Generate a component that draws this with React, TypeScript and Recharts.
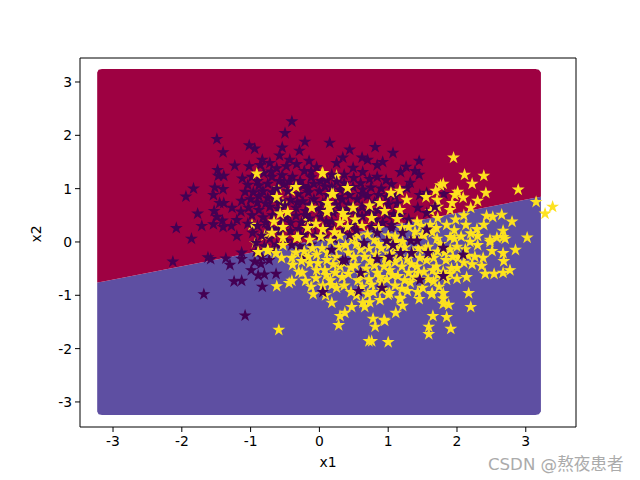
import { ComposedChart, Area, Scatter, XAxis, YAxis, ZAxis, ReferenceLine } from 'recharts';

type Pt = [number, number];

const xTicks = [-3, -2, -1, 0, 1, 2, 3];
const yTicks = [-3, -2, -1, 0, 1, 2, 3];

// decision regions: [x, bottom, boundary, top]
const regionX = [-3.23, -3.21, -3.16, 3.14, 3.19, 3.22];
const regionBottom = [-3.18, -3.23, -3.245, -3.245, -3.23, -3.18];
const regionBoundary = [-0.76, -0.755, -0.745, 0.83, 0.84, 0.85];
const regionTop = [3.18, 3.23, 3.245, 3.245, 3.23, 3.18];

// class 0 stars
const darkPoints: Pt[] = [
  [-0.4, 2.26], [-0.5, 2.04], [-1.49, 1.93], [-0.21, 1.88], [-1.02, 1.81], [-0.94, 1.75], [-1.4, 1.68], [-0.54, 1.77],
  [-0.29, 1.71], [-0.58, 1.62], [-0.43, 1.54], [-0.83, 1.54], [-0.86, 1.44], [-1.23, 1.43], [-1.48, 1.35], [-1.47, 1.24],
  [-1.39, 1.24], [-1.12, 1.19], [-1.83, 1.0], [-1.94, 0.85], [-1.52, 1.02], [-1.4, 0.99], [-1.54, 0.88], [-1.13, 0.77],
  [-1.39, 0.73], [-1.45, 0.73], [-1.27, 0.64], [-1.53, 0.58], [-1.14, 0.57], [-1.77, 0.53], [-1.49, 0.47], [-1.41, 0.4],
  [-1.2, 0.41], [-1.71, 0.3], [-1.54, 0.33], [-1.4, 0.28], [-1.28, 0.3], [-2.08, 0.26], [-1.86, 0.06], [-1.2, 0.11],
  [-2.13, -0.37], [-1.62, -0.29], [-1.58, -0.32], [-1.36, -0.31], [-1.3, -0.43], [-1.13, -0.32], [-0.94, -0.37], [-0.85, -0.41],
  [-0.73, -0.34], [-0.99, -0.53], [-0.8, -0.61], [-0.89, -0.63], [-0.63, -0.6], [-1.24, -0.74], [-1.13, -0.73], [-0.83, -0.84],
  [-1.68, -0.98], [-1.08, -1.38], [-0.22, -0.29], [-0.4, -0.06], [-1.13, -0.2], [0.15, 1.86], [0.44, 1.73], [0.81, 1.78],
  [1.07, 1.67], [0.34, 1.58], [0.25, 1.48], [0.62, 1.58], [0.7, 1.54], [0.92, 1.5], [0.84, 1.44], [1.45, 1.52],
  [1.26, 1.41], [1.39, 1.33], [1.18, 1.31], [1.45, 1.26], [0.49, 1.39], [0.63, 1.31], [0.84, 1.22], [0.73, 1.18],
  [0.97, 1.16], [1.32, 1.11], [1.27, 1.01], [0.63, 0.98], [0.49, 1.03], [0.25, 1.13], [0.11, 1.16], [1.81, 0.9],
  [1.56, 0.92], [1.46, 0.88], [1.43, 0.64], [0.98, 0.51], [0.55, 0.41], [0.76, 0.28], [1.05, 0.26],
  [-1.02, 1.42], [-0.72, 1.48], [-0.62, 1.38], [-0.48, 1.42], [-0.33, 1.46], [-0.15, 1.52], [-0.04, 1.4], [-0.22, 1.33],
  [-0.81, 1.29], [-0.98, 1.22], [-0.69, 1.22], [-0.54, 1.25], [-0.39, 1.22], [-0.12, 1.21], [0.02, 1.14], [0.36, 1.26],
  [-1.04, 1.07], [-0.88, 1.06], [-0.75, 1.09], [-0.52, 1.08], [-0.44, 1.13], [-0.24, 1.05], [-0.08, 1.09], [0.18, 1.02],
  [0.3, 0.98], [0.44, 0.88], [-1.08, 0.94], [-0.96, 0.93], [-0.82, 0.95], [-0.68, 0.93], [-0.46, 0.95], [-0.3, 0.9],
  [-0.16, 0.93], [0.0, 0.95], [0.12, 0.88], [0.33, 0.8], [0.55, 0.8], [0.7, 0.86], [0.86, 0.88], [-1.0, 0.8],
  [-0.9, 0.74], [-0.75, 0.82], [-0.58, 0.76], [-0.42, 0.79], [-0.24, 0.76], [-0.08, 0.8], [0.05, 0.73], [0.24, 0.7],
  [0.42, 0.7], [0.62, 0.66], [0.85, 0.6], [1.0, 0.7], [1.13, 0.72], [-1.03, 0.64], [-0.88, 0.6], [-0.72, 0.66],
  [-0.6, 0.62], [-0.34, 0.64], [-0.2, 0.58], [-0.03, 0.63], [0.2, 0.55], [0.42, 0.52], [0.62, 0.48], [0.78, 0.52],
  [1.18, 0.5], [1.3, 0.42], [-0.98, 0.5], [-0.82, 0.46], [-0.68, 0.5], [-0.48, 0.46], [-0.34, 0.49], [-0.14, 0.44],
  [0.02, 0.47], [0.18, 0.38], [0.48, 0.32], [0.92, 0.36], [-1.04, 0.34], [-0.9, 0.3], [-0.78, 0.36], [-0.62, 0.24],
  [-0.42, 0.36], [-0.26, 0.36], [-0.1, 0.3], [0.14, 0.27], [0.35, 0.22], [-0.97, 0.17], [-0.84, 0.12], [-0.72, 0.06],
  [-0.58, 0.18], [-0.42, 0.2], [-0.22, 0.14], [-0.06, 0.12], [0.06, 0.1], [0.22, 0.05], [-0.92, -0.02], [-0.8, -0.08],
  [-0.62, -0.05], [-0.48, 0.02], [-0.28, -0.08], [-0.12, -0.05], [-0.92, -0.18], [-0.68, -0.14], [-0.84, -0.28],
  [-0.7, 1.32], [-0.28, 1.14], [-0.62, 1.0], [-0.36, 1.05], [-0.78, 0.72], [-0.5, 0.68], [-0.14, 0.7], [-0.88, 0.86],
  [-0.66, 0.8], [-0.32, 0.74], [0.26, 0.84], [-0.56, 0.38], [-0.2, 0.5], [-0.74, 0.26], [-0.3, 0.24], [0.1, 0.38],
  [0.5, 1.2], [0.6, 1.1], [0.9, 1.0], [0.75, 1.02], [1.05, 1.08], [0.36, 1.1], [1.1, 0.86], [0.98, 0.84],
  [0.4, 0.58], [0.7, 0.58], [0.3, 0.62], [0.82, 0.42], [1.08, 0.52], [0.62, 0.9], [0.18, 1.26], [-0.12, 1.32],
  [-0.9, 1.14], [-0.58, 1.14], [-0.16, 1.02], [0.08, 1.04], [0.4, 0.96], [0.8, 0.74], [0.54, 0.58], [0.02, 0.6],
];

// class 1 stars
const yellowPoints: Pt[] = [
  [1.95, 1.58], [2.11, 1.26], [2.39, 1.24], [2.22, 1.09], [2.42, 0.92], [2.89, 0.98], [3.15, 0.75], [3.28, 0.53],
  [3.39, 0.66], [1.8, 1.09], [1.76, 1.06], [1.17, 0.96], [1.04, 0.92], [1.69, 0.96], [1.55, 0.84], [2.01, 0.94],
  [1.97, 0.88], [2.09, 0.83], [2.3, 0.77], [2.2, 0.64], [1.71, 0.79], [1.72, 0.66], [1.93, 0.73], [1.9, 0.6],
  [1.27, 0.79], [0.73, 0.68], [0.88, 0.73], [0.95, 0.58], [0.49, 0.64], [0.41, 1.01], [0.2, 0.9], [0.05, 1.29],
  [0.12, 0.73], [0.15, 0.64], [0.11, 0.56], [2.43, 0.49], [2.65, 0.51], [2.52, 0.47], [2.8, 0.38], [3.02, 0.08],
  [2.67, 0.21], [2.7, 0.06], [2.58, 0.08], [2.48, 0.04], [2.39, 0.32], [2.29, 0.24], [2.3, 0.11], [2.13, 0.32],
  [1.72, 0.45], [1.61, 0.32], [1.17, 0.6], [1.39, 0.19], [1.42, 0.38], [1.13, 0.43], [0.76, 0.45], [0.05, 0.24],
  [0.37, 0.47], [0.3, 0.36], [0.41, 0.28], [2.85, -0.15], [2.67, -0.21], [2.68, -0.36], [2.51, -0.17], [2.48, 0.0],
  [2.77, -0.53], [2.67, -0.58], [2.54, -0.6], [2.41, -0.6], [2.36, -0.45], [2.17, -0.96], [2.2, -1.22], [1.88, -1.18],
  [1.8, -1.16], [1.85, -1.41], [1.65, -1.39], [1.91, -1.63], [1.59, -1.59], [1.59, -1.73], [1.0, -1.88], [0.76, -1.86],
  [0.81, -1.59], [0.94, -1.46], [0.78, -1.44], [1.11, -1.33], [1.21, -1.2], [1.45, -1.07], [1.18, -1.07], [0.88, -1.09],
  [1.8, -0.96], [1.8, -1.06], [1.64, -0.96], [1.43, -0.94], [1.02, -0.96], [1.2, -0.88], [1.85, -0.71], [2.0, -0.69],
  [2.14, -0.66], [2.0, -0.49], [2.1, -0.39], [2.26, -0.28], [2.38, -0.3], [2.3, -0.06], [2.67, 0.09], [1.9, 0.09],
  [2.19, 0.0], [2.0, -0.09], [1.71, 0.06], [1.58, -0.09], [1.21, 0.0], [1.65, -0.53], [1.02, -0.53], [0.28, -1.56],
  [0.3, -1.39], [0.37, -1.33], [0.47, -1.22], [0.18, -1.14], [0.09, -1.0], [0.18, -0.81], [0.25, -0.86], [0.46, -0.94],
  [0.66, -1.22], [0.95, -1.48], [1.63, -0.98], [1.17, -1.05], [0.73, -1.13], [0.63, -1.14], [1.0, -0.99], [0.78, -0.94],
  [-0.59, -1.65], [-0.62, -0.83], [-0.09, -0.98], [0.72, -1.86], [-0.2, -0.73], [-0.4, -0.73], [-0.44, -0.77], [-0.25, -0.58],
  [-0.04, -0.53], [-0.05, -0.68], [-0.39, -0.43], [-0.4, -0.3], [-0.55, -0.3], [-0.63, -0.21], [-0.89, -0.19], [-0.75, -0.17],
  [-0.53, 0.08], [-0.69, 0.17], [-0.33, 0.08], [-0.14, 0.04], [0.23, -0.58], [0.33, -0.66], [0.08, -0.53], [0.11, -0.34],
  [-0.04, -0.24], [-0.91, 1.28], [0.04, 1.29], [-0.34, 1.03], [-0.62, 0.84], [0.18, 0.9], [-0.11, 0.64], [-0.57, 0.53],
  [-0.46, 0.56], [-0.66, 0.38], [-0.53, 0.28], [-0.17, 0.26], [-0.05, 0.34], [-0.31, 0.09], [0.34, 0.54], [-0.75, -0.15],
  [-0.53, -0.06], [0.52, 0.42], [0.62, 0.3], [0.7, 0.14], [0.3, 0.12], [0.48, 0.06], [0.6, -0.14], [0.16, 0.02],
  [0.04, -0.12], [0.25, -0.28], [0.42, -0.2], [0.52, -0.44], [0.74, -0.36], [0.9, -0.12], [0.8, 0.04], [1.0, 0.12],
  [1.12, -0.12], [1.28, -0.32], [1.44, -0.12], [1.5, 0.14], [1.72, -0.18], [1.84, -0.34], [1.96, 0.22], [2.06, 0.1],
  [1.85, 0.32], [1.98, 0.42], [2.1, 0.5], [1.62, 0.58], [1.52, 0.12], [1.3, 0.28], [1.1, -0.38], [0.94, -0.46],
  [0.84, -0.58], [0.72, -0.7], [0.56, -0.72], [0.42, -0.6], [0.3, -0.46], [0.16, -0.72], [0.05, -0.82], [-0.14, -0.4],
  [-0.22, -0.18], [-0.3, -0.56], [-0.12, -0.84], [0.36, -0.82], [0.62, -0.84], [0.76, -0.8], [0.98, -0.7], [1.14, -0.64],
  [1.3, -0.58], [1.42, -0.46], [1.56, -0.34], [1.7, -0.46], [1.8, -0.56], [1.94, -0.28], [2.12, -0.14], [2.22, -0.42],
  [1.32, -0.76], [1.5, -0.86], [1.58, -0.7], [1.74, -0.84], [1.28, -0.92], [1.1, -0.82], [0.9, -0.76], [1.04, -0.22],
  [1.24, -0.1], [1.38, 0.06], [1.1, 0.1], [0.96, -0.3], [0.68, -0.5], [0.5, -0.28], [0.2, -0.42], [0.1, -0.62],
  [-0.02, -0.4], [-0.1, -0.12], [-0.26, -0.36], [0.28, -0.1], [0.56, 0.12], [0.86, 0.26], [1.2, 0.26], [1.48, 0.3],
  [1.64, 0.18], [1.76, -0.04], [1.9, -0.14], [2.02, -0.3], [1.46, -0.3], [1.6, -0.2], [1.2, -0.46], [0.82, -0.24],
  [0.66, -0.28], [1.52, -0.56], [1.72, -0.62], [1.92, -0.5], [0.46, -0.48], [0.34, -0.38], [0.72, -0.12], [1.02, -0.06],
  [0.92, -0.9], [0.7, -0.98], [0.54, -1.0], [1.38, -0.66], [1.06, -0.62], [1.36, -0.2], [1.66, -0.3], [2.16, -0.26],
  [0.62, -0.62], [0.88, -0.66], [1.24, -0.72], [1.44, -0.58], [1.66, -0.74], [1.9, -0.6], [0.8, -0.44], [1.0, -0.38],
  [1.16, -0.28], [1.34, -0.42], [1.54, -0.14], [1.82, -0.2], [0.12, -0.2], [-0.16, -0.28], [-0.34, -0.2], [0.38, -0.06],
  [0.54, -0.04], [0.86, -0.04], [1.12, 0.02], [1.7, 0.26], [1.96, 0.06], [2.2, 0.16], [0.02, 0.1], [0.22, 0.18],
];

// small yellow fragments showing under the dark blob
const yellowUnderPoints: Pt[] = [
  [-0.6, 1.01], [-0.41, 0.96], [-0.53, 0.72], [-0.79, 0.12], [-0.98, 0.32], [-0.93, -0.02], [0.25, 1.24], [-0.18, 0.42],
];

// dark stars drawn over the yellow cluster
const darkOverPoints: Pt[] = [
  [0.57, -0.92], [1.46, -0.71], [0.6, -0.58], [0.18, -0.15], [0.38, -0.34], [0.65, -0.02], [0.44, 0.13], [0.84, -0.32],
  [0.98, 0.02], [1.33, 0.02], [1.42, 0.02], [1.18, -0.21], [1.34, -0.21], [1.56, 0.23], [1.56, 0.54], [1.68, 0.66],
  [0.05, -0.94], [1.05, 0.32], [0.84, 0.17], [0.54, 0.22], [1.02, -0.28], [0.91, -0.86], [1.21, 0.17], [1.07, -0.06],
  [1.58, -0.21], [2.09, -0.24], [1.8, -0.64], [1.8, -0.11], [0.34, -0.35],
];

const regionData = regionX.map((x, i) => ({
  x,
  blue: [regionBottom[i], regionBoundary[i]],
  red: [regionBoundary[i], regionTop[i]],
}));

const toXY = (pts: Pt[]) => pts.map(([x, y]) => ({ x, y }));

const X_DOMAIN = [-3.48, 3.73];
const Y_DOMAIN = [-3.47, 3.45];
const tickStyle = { fontSize: 13.9, fill: '#000', fontFamily: 'DejaVu Sans' };
const axisLine = { stroke: '#000', strokeWidth: 1 };
const STAR_SIZE = 28;
const YELLOW = '#FDE21F';
const DARK = '#440154';

export default function App() {
  return (
    <div style={{ position: 'absolute', left: 0, top: 0, width: 640, height: 480, background: '#fff', fontFamily: 'DejaVu Sans' }}>
      <ComposedChart width={640} height={480} data={regionData} margin={{ top: 58, right: 64, bottom: 23, left: 30 }}>
        <XAxis
          dataKey="x"
          type="number"
          domain={X_DOMAIN}
          ticks={xTicks}
          allowDataOverflow
          tick={tickStyle}
          tickSize={5}
          tickMargin={4}
          axisLine={axisLine}
          tickLine={axisLine}
          height={30}
          label={{ value: 'x1', position: 'insideBottom', offset: -10, style: tickStyle }}
        />
        <YAxis
          type="number"
          domain={Y_DOMAIN}
          ticks={yTicks}
          allowDataOverflow
          tick={tickStyle}
          tickSize={5}
          tickMargin={3}
          axisLine={axisLine}
          tickLine={axisLine}
          width={50}
          label={{ value: 'x2', angle: -90, position: 'insideLeft', offset: 6, style: tickStyle }}
        />
        <ZAxis type="number" range={[STAR_SIZE, STAR_SIZE]} />
        <Area dataKey="blue" type="linear" fill="#5E4FA2" fillOpacity={1} stroke="none" dot={false} activeDot={false} isAnimationActive={false} />
        <Area dataKey="red" type="linear" fill="#9E0142" fillOpacity={1} stroke="none" dot={false} activeDot={false} isAnimationActive={false} />
        <Scatter data={toXY(yellowUnderPoints)} dataKey="y" shape="star" fill={YELLOW} stroke={YELLOW} strokeWidth={1.1} isAnimationActive={false} />
        <Scatter data={toXY(darkPoints)} dataKey="y" shape="star" fill={DARK} stroke={DARK} strokeWidth={1.1} isAnimationActive={false} />
        <Scatter data={toXY(yellowPoints)} dataKey="y" shape="star" fill={YELLOW} stroke={YELLOW} strokeWidth={1.1} isAnimationActive={false} />
        <Scatter data={toXY(darkOverPoints)} dataKey="y" shape="star" fill={DARK} stroke={DARK} strokeWidth={1.1} isAnimationActive={false} />
        <ReferenceLine x={X_DOMAIN[1]} stroke="#000" strokeWidth={1} ifOverflow="visible" />
        <ReferenceLine y={Y_DOMAIN[1]} stroke="#000" strokeWidth={1} ifOverflow="visible" />
      </ComposedChart>
      <div style={{ position: 'absolute', left: 488, top: 451, fontSize: 16.6, color: '#ababab', whiteSpace: 'nowrap', fontFamily: 'DejaVu Sans, "Noto Sans CJK SC"' }}>
        CSDN @熬夜患者
      </div>
    </div>
  );
}
